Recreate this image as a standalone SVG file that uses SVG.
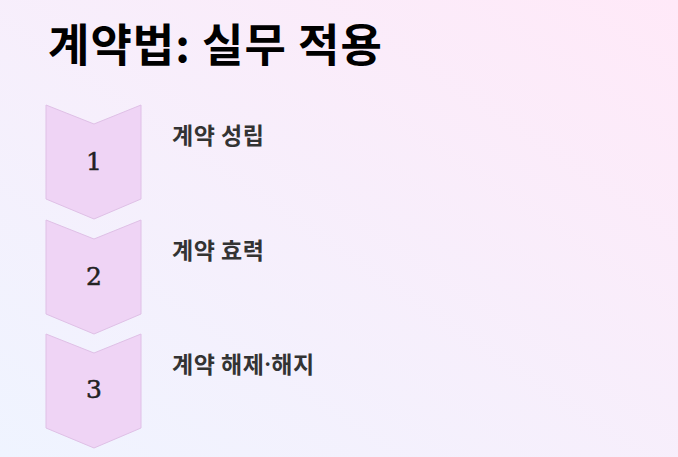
<svg xmlns="http://www.w3.org/2000/svg" width="678" height="457" viewBox="0 0 678 457">
<defs>
<linearGradient id="bg" x1="0" y1="1" x2="1" y2="0">
<stop offset="0" stop-color="#eff4ff"/>
<stop offset="1" stop-color="#ffe9f8"/>
</linearGradient>
<style>
.chev{fill:#efd4f5;stroke:#dfc0e6;stroke-width:1}
.num{font-family:"DejaVu Serif","Liberation Serif",serif;font-size:25px;fill:#222222;stroke:#222222;stroke-width:0.5px;text-anchor:middle}
.lbl{font-family:"Noto Sans CJK KR","Noto Sans",sans-serif;font-size:23px;font-weight:600;fill:#333333;letter-spacing:0.5px}
.dot{font-family:"Noto Sans","DejaVu Sans",sans-serif}
.title{font-family:"Noto Sans CJK KR","Noto Sans",sans-serif;font-size:45px;font-weight:700;fill:#000000;letter-spacing:1px}
</style>
</defs>
<rect width="678" height="457" fill="url(#bg)"/>
<text class="title" x="48" y="62">계약법: 실무 적용</text>
<g id="step1">
<path class="chev" d="M46,105 L94,124 L141,105 L141,199 L94,219 L46,199 Z"/>
<text class="num" x="94" y="170">1</text>
<text class="lbl" x="172" y="144">계약 성립</text>
</g>
<g id="step2">
<path class="chev" d="M46,220 L94,239 L141,220 L141,314 L94,334 L46,314 Z"/>
<text class="num" x="94" y="285">2</text>
<text class="lbl" x="172" y="259">계약 효력</text>
</g>
<g id="step3">
<path class="chev" d="M46,334 L94,353 L141,334 L141,428 L94,448 L46,428 Z"/>
<text class="num" x="94" y="398">3</text>
<text class="lbl" x="172" y="373">계약 해제<tspan class="dot">·</tspan>해지</text>
</g>
<g id="connectors"></g>
</svg>
